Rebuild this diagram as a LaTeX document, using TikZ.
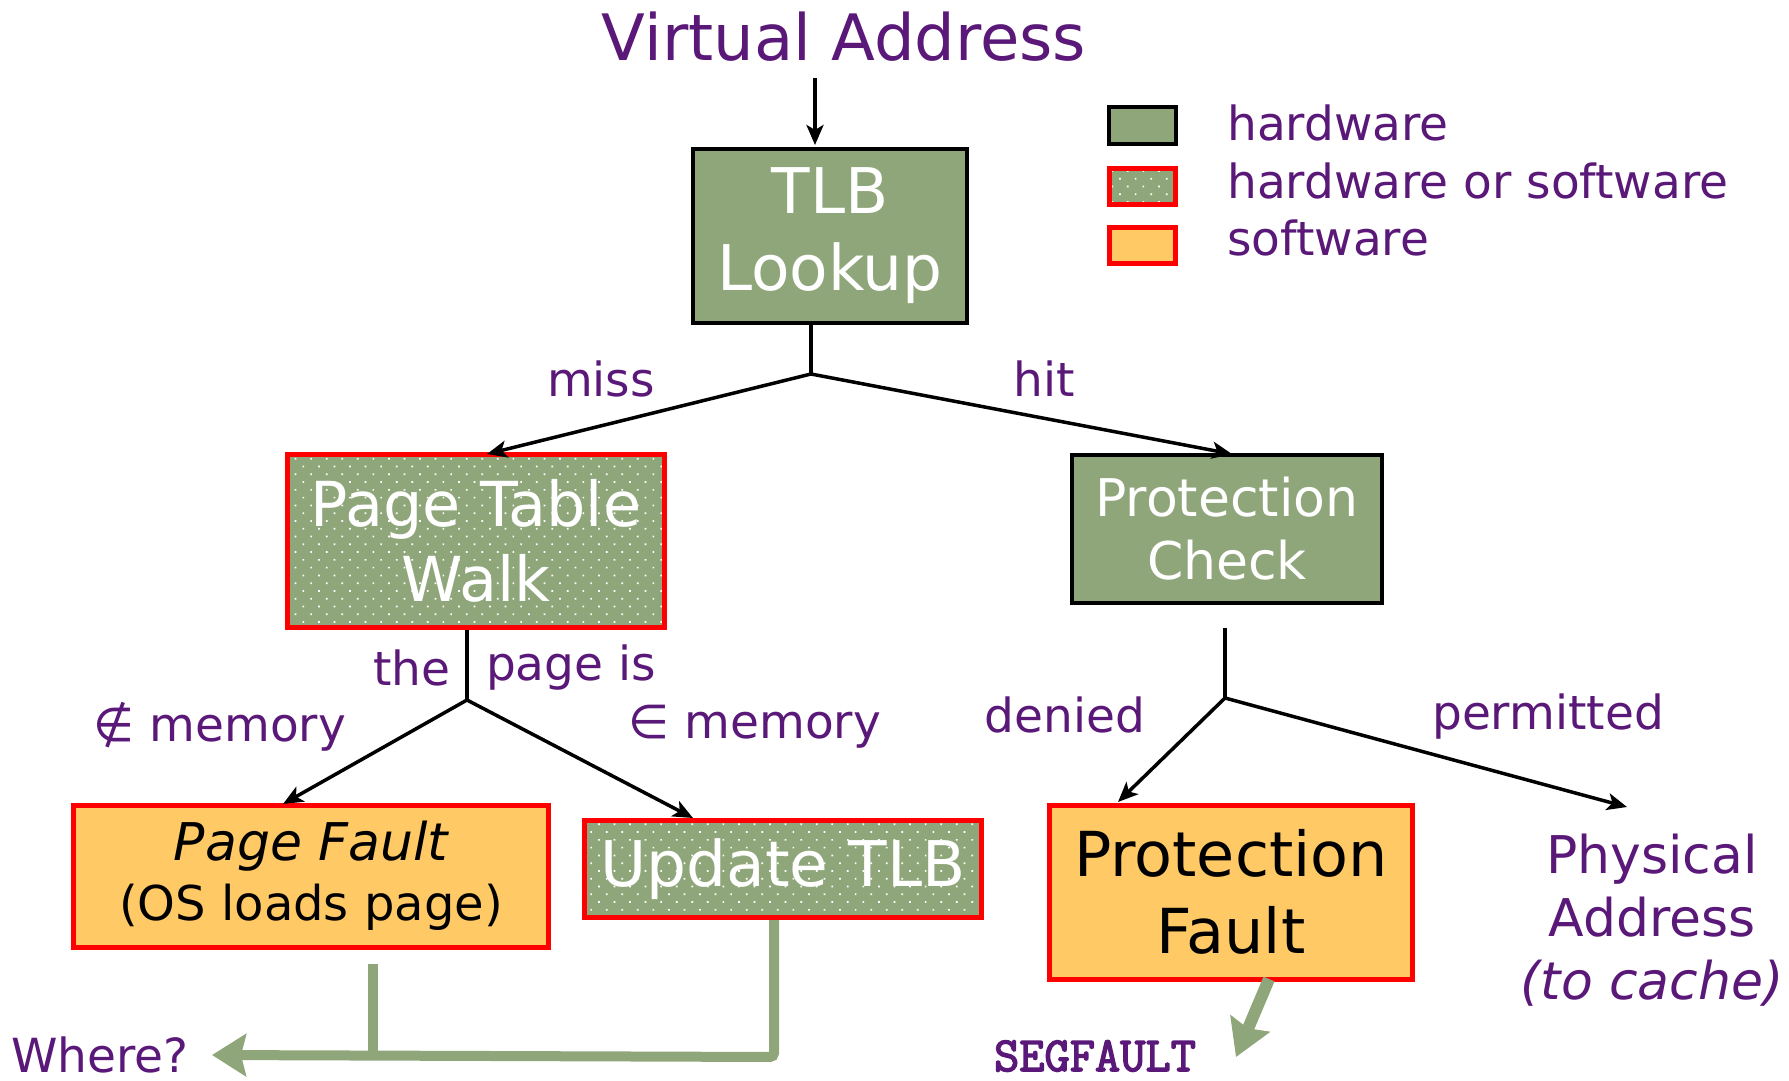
\documentclass[tikz,border=0pt]{standalone}
\usepackage{fontspec}
\setmainfont{DejaVu Sans}
\newfontface\segfont{Latin Modern Mono}[FakeBold=3]
\usetikzlibrary{arrows.meta,patterns.meta}
\definecolor{hwgreen}{HTML}{8FA67A}
\definecolor{swor}{HTML}{FFC966}
\definecolor{purp}{HTML}{5A1878}
\definecolor{bred}{HTML}{FF0000}
\tikzset{
  hw/.style={draw=black, line width=4pt, fill=hwgreen, inner sep=0pt, align=center, text=white},
  hwsw/.style={draw=bred, line width=5pt, inner sep=0pt, align=center, text=white,
     preaction={fill=hwgreen}, preaction={pattern={Dots[angle=45,distance=11pt,radius=1.2pt]}, pattern color=white}},
  sw/.style={draw=bred, line width=5pt, fill=swor, inner sep=0pt, align=center, text=black},
  lbl/.style={text=purp, font=\fontsize{47}{56}\selectfont, inner sep=0pt},
  conn/.style={line width=3.5pt, draw=black},
  carrow/.style={conn, -{Stealth[length=20pt,width=17pt,inset=5pt]}},
  garrow/.style={line width=10pt, draw=hwgreen, -{Stealth[length=34pt,width=42pt,inset=5pt]}},
}
\begin{document}
\begin{tikzpicture}[x=1pt,y=-1pt]
\useasboundingbox (0,0) rectangle (1789,1081);
% title
\node[text=purp, font=\fontsize{64}{70}\selectfont, inner sep=0pt] (va) at (844,37) {Virtual Address};
% boxes
\node[hw, minimum width=274pt, minimum height=174pt, font=\fontsize{63}{77}\selectfont] (tlb) at (830,236) {TLB\\Lookup};
\node[hwsw, minimum width=377pt, minimum height=173pt, font=\fontsize{62}{75}\selectfont] (ptw) at (476,541) {Page Table\\Walk};
\node[hw, minimum width=310pt, minimum height=148pt, font=\fontsize{52}{63}\selectfont] (pc) at (1227,529) {Protection\\Check};
\node[sw, minimum width=475pt, minimum height=142pt, font=\fontsize{48}{60}\selectfont] (pf) at (311,876) {\itshape\fontsize{52}{60}\selectfont Page Fault\\(OS loads page)};
\node[hwsw, minimum width=397pt, minimum height=97pt, font=\fontsize{63}{70}\selectfont] (ut) at (783,869) {Update TLB};
\node[sw, minimum width=363pt, minimum height=174pt, font=\fontsize{62}{77}\selectfont] (pfl) at (1231,892) {Protection\\Fault};
\node[text=purp, align=center, inner sep=0pt, font=\fontsize{52}{63}\selectfont] (phys) at (1652,920) {Physical\\Address\\\itshape (to cache)};
% legend
\node[hw, minimum width=67pt, minimum height=37pt] (lg1) at (1142,125) {};
\node[hwsw, minimum width=66pt, minimum height=36pt] (lg2) at (1142,186) {};
\node[sw, minimum width=66pt, minimum height=36pt] (lg3) at (1142,245) {};
\node[lbl, anchor=west] (lt1) at (1227,123) {hardware};
\node[lbl, anchor=west] (lt2) at (1227,181) {hardware or software};
\node[lbl, anchor=west] (lt3) at (1227,238) {software};
% labels
\node[lbl] (miss) at (601,379) {miss};
\node[lbl] (hit) at (1044,379) {hit};
\node[lbl] (the) at (412,668) {the};
\node[lbl] (pageis) at (571,668) {page is};
\node[lbl] (notmem) at (220,727) {∉ memory};
\node[lbl] (inmem) at (755,727) {∈ memory};
\node[lbl] (denied) at (1065,715) {denied};
\node[lbl] (perm) at (1548,717) {permitted};
\node[lbl] (where) at (100,1055) {Where?};
\node[text=purp, inner sep=0pt, font=\fontsize{49}{54}\segfont] (segf) at (1095,1056) {SEGFAULT};
% coordinates
\coordinate (vatop) at (815,78);
\coordinate (tlbin) at (815,145);
\coordinate (tlbout) at (811,325);
\coordinate (s1) at (811,374);
\coordinate (t1l) at (487,454);
\coordinate (t1r) at (1232,454);
\coordinate (ptwout) at (467,630);
\coordinate (s2) at (467,700);
\coordinate (t2l) at (283,804);
\coordinate (t2r) at (693,818);
\coordinate (pcout) at (1225,628);
\coordinate (s3) at (1225,698);
\coordinate (t3l) at (1118,802);
\coordinate (t3r) at (1627,807);
\coordinate (g1) at (774,920);
\coordinate (g1c) at (774,1057);
\coordinate (g2) at (373,964);
\coordinate (g2c) at (373,1056);
\coordinate (gtip) at (212,1055);
\coordinate (sg1) at (1269,979);
\coordinate (sg2) at (1236,1057);
% connectors
\draw[carrow] (vatop) -- (tlbin);
\draw[conn] (tlbout) -- (s1);
\draw[carrow] (s1) -- (t1l);
\draw[carrow] (s1) -- (t1r);
\draw[conn] (ptwout) -- (s2);
\draw[carrow] (s2) -- (t2l);
\draw[carrow] (s2) -- (t2r);
\draw[conn] (pcout) -- (s3);
\draw[carrow] (s3) -- (t3l);
\draw[carrow] (s3) -- (t3r);
% green arrows
\draw[garrow, rounded corners=4pt] (g1) -- (g1c) -- (gtip);
\draw[line width=10pt, draw=hwgreen] (g2) -- (g2c);
\draw[line width=12pt, draw=hwgreen, -{Stealth[length=36pt,width=42pt,inset=5pt]}] (sg1) -- (sg2);
\end{tikzpicture}
\end{document}
